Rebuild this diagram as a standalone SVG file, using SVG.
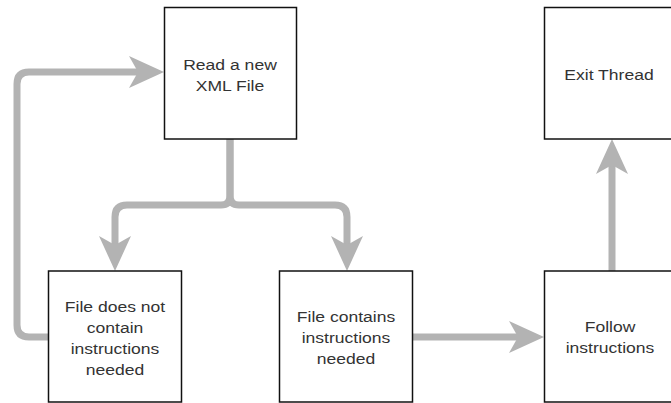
<svg xmlns="http://www.w3.org/2000/svg" width="671" height="403" viewBox="0 0 671 403">
  <style>
    .box { fill: #ffffff; stroke: #111111; stroke-width: 1.5; }
    .lbl { font-family: "Liberation Sans", Arial, sans-serif; font-size: 15px; fill: #333333; text-anchor: middle; }
    .edge { fill: none; stroke: #b3b3b3; stroke-width: 7; stroke-linejoin: round; }
  </style>
  <defs>
    <marker id="head" markerUnits="userSpaceOnUse" markerWidth="40" markerHeight="36" refX="9" refY="0" viewBox="0 -18 40 36" orient="auto" overflow="visible">
      <path d="M0,-16 L35,0 L0,16 L9,0 Z" fill="#b3b3b3"/>
    </marker>
  </defs>
  <rect width="671" height="403" fill="#ffffff"/>

  <g id="connectors">
    <path class="edge" marker-end="url(#head)" d="M230,139 V196 Q230,205 221,205 H127 Q115,205 115,217 V245"/>
    <path class="edge" marker-end="url(#head)" d="M230,139 V196 Q230,205 239,205 H335 Q347,205 347,217 V245"/>
    <path class="edge" marker-end="url(#head)" d="M48,337 H29 Q17,337 17,325 V84 Q17,72 29,72 H138"/>
    <path class="edge" marker-end="url(#head)" d="M413,337 H518"/>
    <path class="edge" marker-end="url(#head)" d="M612,271 V165"/>
  </g>

  <g id="read-xml">
    <rect class="box" x="164.5" y="7.5" width="132" height="131.5"/>
    <text class="lbl" transform="translate(230 70) scale(1.17 1)">Read a new</text>
    <text class="lbl" transform="translate(230 91) scale(1.17 1)">XML File</text>
  </g>

  <g id="no-instructions">
    <rect class="box" x="48.5" y="271" width="133" height="131"/>
    <text class="lbl" transform="translate(115 312) scale(1.17 1)">File does not</text>
    <text class="lbl" transform="translate(115 333) scale(1.17 1)">contain</text>
    <text class="lbl" transform="translate(115 354) scale(1.17 1)">instructions</text>
    <text class="lbl" transform="translate(115 375) scale(1.17 1)">needed</text>
  </g>

  <g id="has-instructions">
    <rect class="box" x="279.5" y="271" width="133" height="131"/>
    <text class="lbl" transform="translate(346 322) scale(1.17 1)">File contains</text>
    <text class="lbl" transform="translate(346 343) scale(1.17 1)">instructions</text>
    <text class="lbl" transform="translate(346 364) scale(1.17 1)">needed</text>
  </g>

  <g id="follow">
    <rect class="box" x="544.5" y="271" width="133" height="131"/>
    <text class="lbl" transform="translate(610 332) scale(1.17 1)">Follow</text>
    <text class="lbl" transform="translate(610 353) scale(1.17 1)">instructions</text>
  </g>

  <g id="exit-thread">
    <rect class="box" x="544.5" y="7.5" width="133" height="131.5"/>
    <text class="lbl" transform="translate(609 80) scale(1.17 1)">Exit Thread</text>
  </g>
</svg>
